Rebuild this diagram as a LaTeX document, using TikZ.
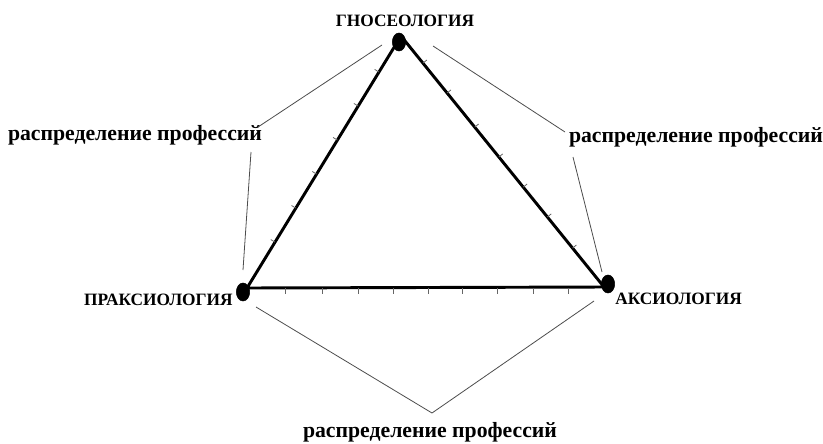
\documentclass[tikz,border=0pt]{standalone}
\usepackage{fontspec}
\setmainfont{Liberation Serif}
\usetikzlibrary{calc,shapes.geometric}
\begin{document}
\begin{tikzpicture}[x=0.75pt,y=-0.75pt,
  vert/.style={ellipse,fill=black,draw=black,inner sep=0pt,minimum width=10pt,minimum height=13.5pt},
  capslbl/.style={font=\bfseries\fontsize{13}{14}\selectfont,inner sep=0pt},
  lclbl/.style={font=\bfseries\fontsize{16.3}{17}\selectfont,inner sep=0pt},
  side/.style={line width=2.2pt,line join=round},
  thin/.style={line width=0.6pt,draw=black!70},
  tick/.style={line width=0.6pt,draw=black!60}]
\useasboundingbox (0,0) rectangle (823,443);
% triangle corners
\coordinate (T) at (401,36);
\coordinate (L) at (247,288);
\coordinate (R) at (604,287);
\draw[side] (T) -- (R) -- (L) -- cycle;
% ticks
\foreach \t in {0.143,0.278,0.413,0.548,0.683,0.818}
  \draw[tick] ($(T)!\t!(L)$) -- ++(-4.3,-2.6);
\foreach \t in {0.108,0.227,0.363,0.482,0.602,0.721,0.845}
  \draw[tick] ($(T)!\t!(R)$) -- ++(3.9,-3.1);
\foreach \x in {285,322,358,393,428,462,497,533,568}
  \draw[tick] (\x,288) -- (\x,294);
% vertex dots
\node[vert] (g) at (399,42) {};
\node[vert] (p) at (243,292) {};
\node[vert] (a) at (608,284) {};
% labels
\node[capslbl] (gl) at (405,21) {ГНОСЕОЛОГИЯ};
\node[capslbl,anchor=east] (pl) at (233,300) {ПРАКСИОЛОГИЯ};
\node[capslbl,anchor=west] (al) at (615,299) {АКСИОЛОГИЯ};
\node[lclbl] (ll) at (135,135) {распределение профессий};
\node[lclbl] (rl) at (696,137) {распределение профессий};
\node[lclbl] (bl) at (430,432) {распределение профессий};
% thin connectors
\coordinate (c1) at (382,45);
\coordinate (c2) at (258,127);
\coordinate (c3) at (251,152);
\coordinate (c4) at (243,270);
\coordinate (c5) at (256,307);
\coordinate (c6) at (432,413);
\coordinate (c7) at (594,301);
\coordinate (c8) at (433,46);
\coordinate (c9) at (565,132);
\coordinate (c10) at (573,157);
\coordinate (c11) at (602,272);
\draw[thin] (c1) -- (c2);
\draw[thin] (c3) -- (c4);
\draw[thin] (c5) -- (c6) -- (c7);
\draw[thin] (c8) -- (c9);
\draw[thin] (c10) -- (c11);
\end{tikzpicture}
\end{document}
